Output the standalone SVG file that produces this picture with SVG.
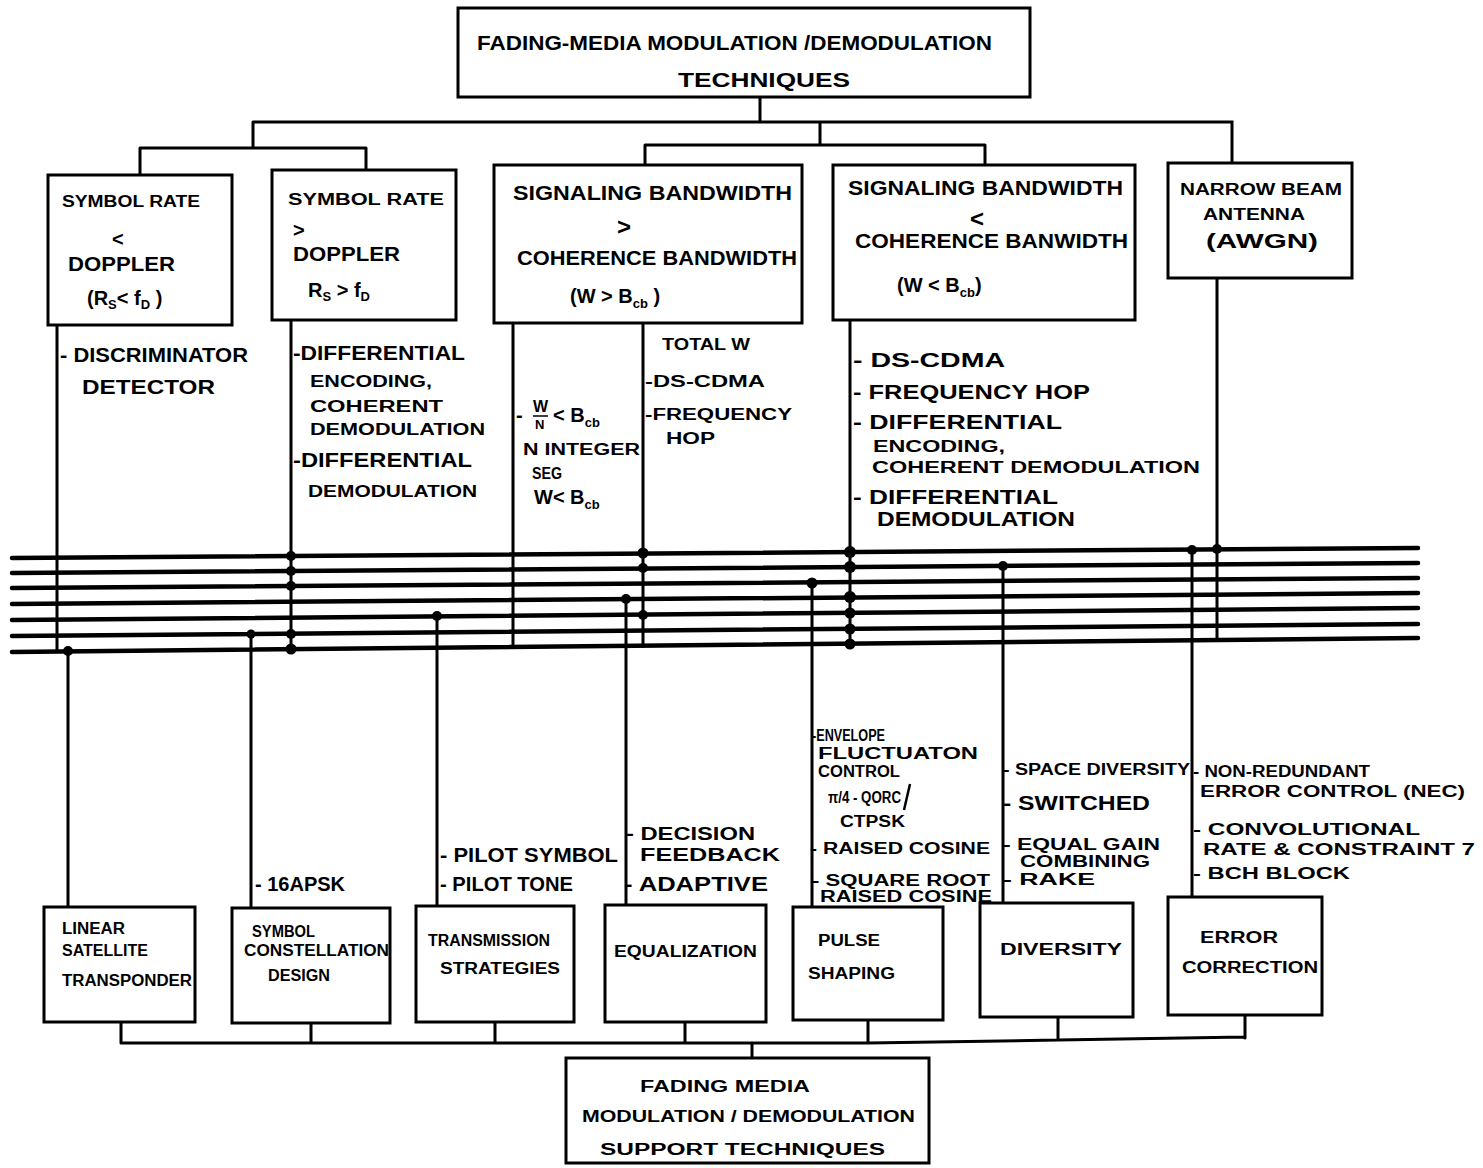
<svg xmlns="http://www.w3.org/2000/svg" width="1483" height="1168" viewBox="0 0 1483 1168">
  <style>
    .box { fill: #fff; stroke: #000; stroke-width: 3; }
    .wire { fill: none; stroke: #000; stroke-width: 3; stroke-linecap: round; }
    .bus { fill: none; stroke: #000; stroke-width: 4.5; stroke-linecap: round; }
    .dot { fill: #000; }
    text { font-family: "Liberation Sans", Arial, sans-serif; font-weight: bold; fill: #000; }
    .t { font-size: 20px; }
    .s { font-size: 18px; }
    .m { font-size: 16px; }
    .sub { font-size: 13px; }
  </style>

  <!-- connectors: trees above and below, bus, drops and junction dots -->
  <g id="connectors">
    <!-- tree from top node -->
    <path class="wire" d="M760 97 V122 M253 122 H1232 V165 M253 122 V148 M140 148 H366 M140 148 V175 M366 148 V170 M820 122 V145 M645 145 H985 M645 145 V165 M985 145 V165"/>
    <!-- bus of seven lines -->
    <g class="bus">
      <line x1="12" y1="558" x2="1418" y2="548"/>
      <line x1="12" y1="573" x2="1418" y2="563"/>
      <line x1="12" y1="588" x2="1418" y2="578"/>
      <line x1="12" y1="604" x2="1418" y2="593"/>
      <line x1="12" y1="620" x2="1418" y2="608"/>
      <line x1="12" y1="636" x2="1418" y2="624"/>
      <line x1="12" y1="652" x2="1418" y2="638"/>
    </g>
    <!-- drops from upper nodes into the bus -->
    <path class="wire" d="M57 325 V651 M291 320 V649 M513 323 V647 M643 323 V646 M850 320 V644 M1217 278 V640"/>
    <!-- taps from bus down to lower nodes -->
    <path class="wire" d="M68 651 V907 M251 634 V908 M437 616 V906 M626 599 V905 M812 582 V907 M1003 566 V903 M1192 550 V897"/>
    <!-- junction dots -->
    <g class="dot">
      <circle cx="291" cy="556" r="5"/>
      <circle cx="291" cy="571" r="5"/>
      <circle cx="291" cy="586" r="5"/>
      <circle cx="291" cy="634" r="5"/>
      <circle cx="291" cy="649" r="5.5"/>
      <circle cx="68" cy="651" r="5"/>
      <circle cx="251" cy="634" r="4.5"/>
      <circle cx="437" cy="616" r="5"/>
      <circle cx="626" cy="599" r="5"/>
      <circle cx="643" cy="553" r="5.5"/>
      <circle cx="643" cy="568" r="5"/>
      <circle cx="643" cy="615" r="5"/>
      <circle cx="812" cy="583" r="5.5"/>
      <circle cx="850" cy="552" r="6"/>
      <circle cx="850" cy="567" r="6"/>
      <circle cx="850" cy="597" r="6"/>
      <circle cx="850" cy="613" r="5.5"/>
      <circle cx="850" cy="629" r="5.5"/>
      <circle cx="850" cy="644" r="5.5"/>
      <circle cx="1003" cy="566" r="5"/>
      <circle cx="1192" cy="550" r="5"/>
      <circle cx="1217" cy="549" r="5"/>
    </g>
    <!-- tree into bottom node -->
    <path class="wire" d="M121 1022 V1043 M311 1023 V1043 M495 1022 V1043 M685 1022 V1043 M868 1020 V1043 M1058 1017 V1040 M1245 1015 V1038 M121 1043 H868 L1058 1040 L1245 1037 M752 1043 V1058"/>
  </g>

  <!-- top node -->
  <g id="n-top">
    <rect class="box" x="458" y="8" width="572" height="89"/>
    <text class="t" x="477" y="50" textLength="515" lengthAdjust="spacingAndGlyphs">FADING-MEDIA MODULATION /DEMODULATION</text>
    <text class="t" x="678" y="87" textLength="172" lengthAdjust="spacingAndGlyphs">TECHNIQUES</text>
  </g>

  <!-- upper row nodes -->
  <g id="n-symrate-lt">
    <rect class="box" x="48" y="175" width="184" height="150"/>
    <text class="m" x="62" y="207" textLength="138" lengthAdjust="spacingAndGlyphs">SYMBOL RATE</text>
    <text class="t" x="112" y="246">&lt;</text>
    <text class="t" x="68" y="271" textLength="107" lengthAdjust="spacingAndGlyphs">DOPPLER</text>
    <text class="t" x="87" y="305">(R<tspan class="sub" dy="4">S</tspan><tspan dy="-4">&lt; f</tspan><tspan class="sub" dy="4">D</tspan><tspan dy="-4"> )</tspan></text>
  </g>

  <g id="n-symrate-gt">
    <rect class="box" x="272" y="170" width="184" height="150"/>
    <text class="m" x="288" y="205" textLength="156" lengthAdjust="spacingAndGlyphs">SYMBOL RATE</text>
    <text class="t" x="293" y="237">&gt;</text>
    <text class="t" x="293" y="261" textLength="107" lengthAdjust="spacingAndGlyphs">DOPPLER</text>
    <text class="t" x="308" y="297">R<tspan class="sub" dy="4">S</tspan><tspan dy="-4"> &gt; f</tspan><tspan class="sub" dy="4">D</tspan></text>
  </g>

  <g id="n-bw-gt">
    <rect class="box" x="494" y="165" width="308" height="158"/>
    <text class="t" x="513" y="200" textLength="279" lengthAdjust="spacingAndGlyphs">SIGNALING BANDWIDTH</text>
    <text class="t" x="617" y="235" style="font-size:24px">&gt;</text>
    <text class="t" x="517" y="265" textLength="280" lengthAdjust="spacingAndGlyphs">COHERENCE BANDWIDTH</text>
    <text class="t" x="570" y="303">(W &gt; B<tspan class="sub" dy="5">cb</tspan><tspan dy="-5"> )</tspan></text>
  </g>

  <g id="n-bw-lt">
    <rect class="box" x="833" y="165" width="302" height="155"/>
    <text class="t" x="848" y="195" textLength="275" lengthAdjust="spacingAndGlyphs">SIGNALING BANDWIDTH</text>
    <text class="t" x="970" y="227" style="font-size:24px">&lt;</text>
    <text class="t" x="855" y="248" textLength="273" lengthAdjust="spacingAndGlyphs">COHERENCE BANWIDTH</text>
    <text class="t" x="897" y="292">(W &lt; B<tspan class="sub" dy="5">cb</tspan><tspan dy="-5">)</tspan></text>
  </g>

  <g id="n-beam">
    <rect class="box" x="1168" y="163" width="184" height="115"/>
    <text class="m" x="1180" y="195" textLength="162" lengthAdjust="spacingAndGlyphs">NARROW BEAM</text>
    <text class="m" x="1203" y="220" textLength="102" lengthAdjust="spacingAndGlyphs">ANTENNA</text>
    <text class="t" x="1206" y="248" textLength="112" lengthAdjust="spacingAndGlyphs">(AWGN)</text>
  </g>

  <!-- method lists under the upper nodes -->
  <g id="l-symrate-lt">
    <text class="t" x="60" y="362" textLength="188" lengthAdjust="spacingAndGlyphs">- DISCRIMINATOR</text>
    <text class="t" x="82" y="394" textLength="133" lengthAdjust="spacingAndGlyphs">DETECTOR</text>
  </g>
  <g id="l-symrate-gt">
    <text class="t" x="293" y="360" textLength="172" lengthAdjust="spacingAndGlyphs">-DIFFERENTIAL</text>
    <text class="m" x="310" y="387" textLength="122" lengthAdjust="spacingAndGlyphs">ENCODING,</text>
    <text class="m" x="310" y="412" textLength="133" lengthAdjust="spacingAndGlyphs">COHERENT</text>
    <text class="m" x="310" y="435" textLength="175" lengthAdjust="spacingAndGlyphs">DEMODULATION</text>
    <text class="t" x="293" y="467" textLength="179" lengthAdjust="spacingAndGlyphs">-DIFFERENTIAL</text>
    <text class="m" x="308" y="497" textLength="169" lengthAdjust="spacingAndGlyphs">DEMODULATION</text>
  </g>
  <g id="l-bw-gt">
    <text class="t" x="516" y="422">-</text>
    <text class="m" x="533" y="412">W</text>
    <line x1="533" y1="416" x2="548" y2="416" stroke="#000" stroke-width="1.5"/>
    <text class="sub" x="535" y="429">N</text>
    <text class="t" x="553" y="422">&lt; B<tspan class="sub" dy="5">cb</tspan></text>
    <text class="m" x="523" y="455" textLength="117" lengthAdjust="spacingAndGlyphs">N INTEGER</text>
    <text class="m" x="532" y="479" textLength="30" lengthAdjust="spacingAndGlyphs">SEG</text>
    <text class="t" x="534" y="504">W&lt; B<tspan class="sub" dy="5">cb</tspan></text>
    <text class="m" x="662" y="350" textLength="88" lengthAdjust="spacingAndGlyphs">TOTAL W</text>
    <text class="m" x="645" y="387" textLength="120" lengthAdjust="spacingAndGlyphs">-DS-CDMA</text>
    <text class="m" x="645" y="420" textLength="147" lengthAdjust="spacingAndGlyphs">-FREQUENCY</text>
    <text class="m" x="666" y="444" textLength="49" lengthAdjust="spacingAndGlyphs">HOP</text>
  </g>
  <g id="l-bw-lt">
    <text class="t" x="853" y="367" textLength="152" lengthAdjust="spacingAndGlyphs">- DS-CDMA</text>
    <text class="t" x="853" y="399" textLength="237" lengthAdjust="spacingAndGlyphs">- FREQUENCY HOP</text>
    <text class="t" x="853" y="429" textLength="209" lengthAdjust="spacingAndGlyphs">- DIFFERENTIAL</text>
    <text class="m" x="873" y="452" textLength="132" lengthAdjust="spacingAndGlyphs">ENCODING,</text>
    <text class="m" x="872" y="473" textLength="328" lengthAdjust="spacingAndGlyphs">COHERENT DEMODULATION</text>
    <text class="t" x="853" y="504" textLength="205" lengthAdjust="spacingAndGlyphs">- DIFFERENTIAL</text>
    <text class="t" x="877" y="526" textLength="198" lengthAdjust="spacingAndGlyphs">DEMODULATION</text>
  </g>

  <!-- method lists above the lower nodes -->
  <g id="l-constellation">
    <text class="t" x="255" y="891" textLength="90" lengthAdjust="spacingAndGlyphs">- 16APSK</text>
  </g>
  <g id="l-transmission">
    <text class="t" x="440" y="862" textLength="178" lengthAdjust="spacingAndGlyphs">- PILOT SYMBOL</text>
    <text class="t" x="440" y="891" textLength="133" lengthAdjust="spacingAndGlyphs">- PILOT TONE</text>
  </g>
  <g id="l-equalization">
    <text class="s" x="626" y="840" textLength="129" lengthAdjust="spacingAndGlyphs">- DECISION</text>
    <text class="s" x="640" y="861" textLength="140" lengthAdjust="spacingAndGlyphs">FEEDBACK</text>
    <text class="t" x="624" y="891" textLength="144" lengthAdjust="spacingAndGlyphs">- ADAPTIVE</text>
  </g>
  <g id="l-pulse">
    <text class="m" x="812" y="741" textLength="73" lengthAdjust="spacingAndGlyphs">-ENVELOPE</text>
    <text class="m" x="818" y="759" textLength="160" lengthAdjust="spacingAndGlyphs">FLUCTUATON</text>
    <text class="m" x="818" y="777" textLength="82" lengthAdjust="spacingAndGlyphs">CONTROL</text>
    <text class="m" x="828" y="803" textLength="73" lengthAdjust="spacingAndGlyphs">π/4 - QORC</text>
    <line x1="904" y1="810" x2="910" y2="784" stroke="#000" stroke-width="2.5"/>
    <text class="m" x="840" y="827" textLength="65" lengthAdjust="spacingAndGlyphs">CTPSK</text>
    <text class="m" x="810" y="854" textLength="180" lengthAdjust="spacingAndGlyphs">- RAISED COSINE</text>
    <text class="m" x="812" y="886" textLength="178" lengthAdjust="spacingAndGlyphs">- SQUARE ROOT</text>
    <text class="m" x="820" y="902" textLength="172" lengthAdjust="spacingAndGlyphs">RAISED COSINE</text>
  </g>
  <g id="l-diversity">
    <text class="m" x="1003" y="775" textLength="187" lengthAdjust="spacingAndGlyphs">- SPACE DIVERSITY</text>
    <text class="t" x="1003" y="810" textLength="147" lengthAdjust="spacingAndGlyphs">- SWITCHED</text>
    <text class="m" x="1003" y="850" textLength="157" lengthAdjust="spacingAndGlyphs">- EQUAL GAIN</text>
    <text class="m" x="1020" y="867" textLength="130" lengthAdjust="spacingAndGlyphs">COMBINING</text>
    <text class="m" x="1003" y="885" textLength="92" lengthAdjust="spacingAndGlyphs">- RAKE</text>
  </g>
  <g id="l-error">
    <text class="m" x="1193" y="777" textLength="177" lengthAdjust="spacingAndGlyphs">- NON-REDUNDANT</text>
    <text class="m" x="1200" y="797" textLength="265" lengthAdjust="spacingAndGlyphs">ERROR CONTROL (NEC)</text>
    <text class="m" x="1193" y="835" textLength="227" lengthAdjust="spacingAndGlyphs">- CONVOLUTIONAL</text>
    <text class="m" x="1203" y="855" textLength="272" lengthAdjust="spacingAndGlyphs">RATE &amp; CONSTRAINT 7</text>
    <text class="m" x="1193" y="879" textLength="157" lengthAdjust="spacingAndGlyphs">- BCH BLOCK</text>
  </g>

  <!-- lower row nodes -->
  <g id="n-transponder">
    <rect class="box" x="44" y="907" width="151" height="115"/>
    <text class="m" x="62" y="934" textLength="63" lengthAdjust="spacingAndGlyphs">LINEAR</text>
    <text class="m" x="62" y="956" textLength="86" lengthAdjust="spacingAndGlyphs">SATELLITE</text>
    <text class="m" x="62" y="986" textLength="130" lengthAdjust="spacingAndGlyphs">TRANSPONDER</text>
  </g>
  <g id="n-constellation">
    <rect class="box" x="232" y="908" width="158" height="115"/>
    <text class="m" x="252" y="937" textLength="63" lengthAdjust="spacingAndGlyphs">SYMBOL</text>
    <text class="m" x="244" y="956" textLength="145" lengthAdjust="spacingAndGlyphs">CONSTELLATION</text>
    <text class="m" x="268" y="981" textLength="62" lengthAdjust="spacingAndGlyphs">DESIGN</text>
  </g>
  <g id="n-transmission">
    <rect class="box" x="416" y="906" width="158" height="116"/>
    <text class="m" x="428" y="946" textLength="122" lengthAdjust="spacingAndGlyphs">TRANSMISSION</text>
    <text class="m" x="440" y="974" textLength="120" lengthAdjust="spacingAndGlyphs">STRATEGIES</text>
  </g>
  <g id="n-equalization">
    <rect class="box" x="605" y="905" width="161" height="117"/>
    <text class="m" x="614" y="957" textLength="143" lengthAdjust="spacingAndGlyphs">EQUALIZATION</text>
  </g>
  <g id="n-pulse">
    <rect class="box" x="793" y="907" width="150" height="113"/>
    <text class="m" x="818" y="946" textLength="62" lengthAdjust="spacingAndGlyphs">PULSE</text>
    <text class="m" x="808" y="979" textLength="87" lengthAdjust="spacingAndGlyphs">SHAPING</text>
  </g>
  <g id="n-diversity">
    <rect class="box" x="980" y="903" width="153" height="114"/>
    <text class="m" x="1000" y="955" textLength="122" lengthAdjust="spacingAndGlyphs">DIVERSITY</text>
  </g>
  <g id="n-error">
    <rect class="box" x="1168" y="897" width="154" height="118"/>
    <text class="m" x="1200" y="943" textLength="78" lengthAdjust="spacingAndGlyphs">ERROR</text>
    <text class="m" x="1182" y="973" textLength="136" lengthAdjust="spacingAndGlyphs">CORRECTION</text>
  </g>

  <!-- bottom node -->
  <g id="n-bottom">
    <rect class="box" x="566" y="1058" width="363" height="105"/>
    <text class="m" x="640" y="1092" textLength="170" lengthAdjust="spacingAndGlyphs">FADING MEDIA</text>
    <text class="m" x="582" y="1122" textLength="333" lengthAdjust="spacingAndGlyphs">MODULATION / DEMODULATION</text>
    <text class="m" x="600" y="1155" textLength="285" lengthAdjust="spacingAndGlyphs">SUPPORT TECHNIQUES</text>
  </g>
</svg>
